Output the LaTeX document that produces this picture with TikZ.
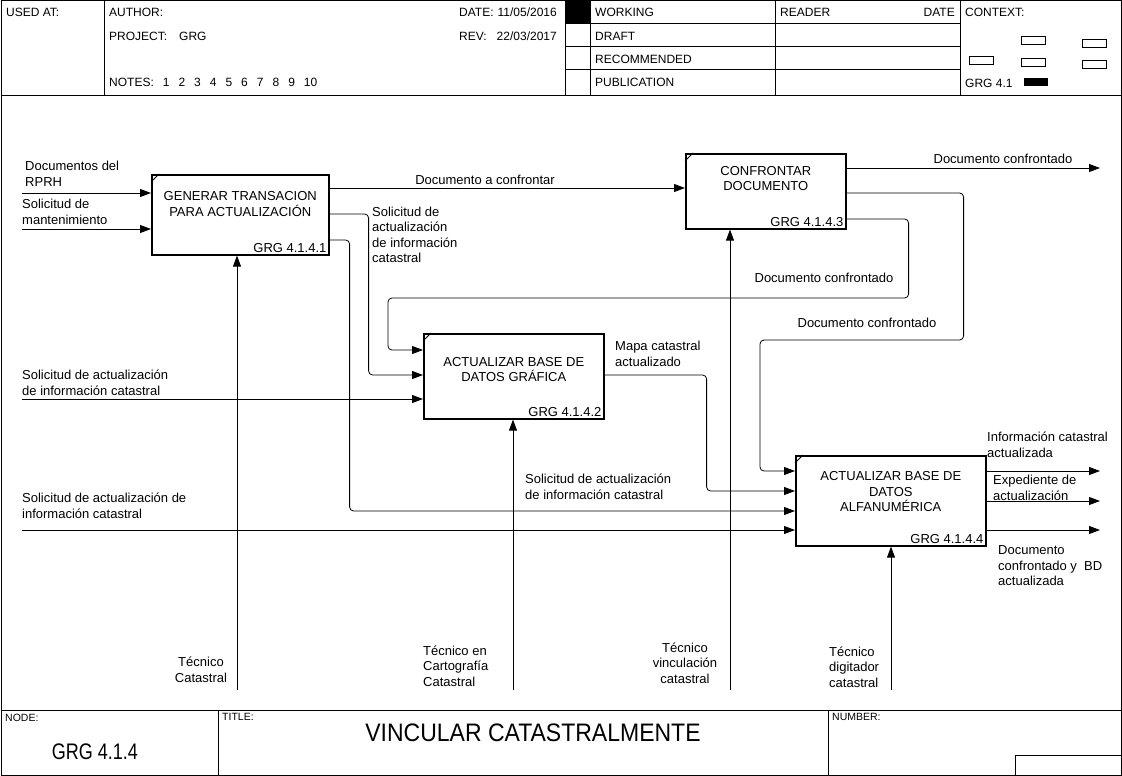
\documentclass[tikz,border=0pt]{standalone}
\usepackage{fontspec}
\setmainfont{Liberation Sans}
\usetikzlibrary{arrows.meta,positioning,calc}
\tikzset{
  frm/.style={line width=1pt},
  actbox/.style={rectangle,draw,line width=1.6pt,inner sep=0pt,anchor=north west},
  actname/.style={font=\fontsize{13}{15.5}\selectfont,align=center,inner sep=0pt},
  actnum/.style={font=\fontsize{13}{15.5}\selectfont,anchor=south east,inner sep=3pt},
  flowlbl/.style={font=\fontsize{13}{15.5}\selectfont,align=left,inner sep=0pt},
  hdrtxt/.style={font=\fontsize{12}{14}\selectfont,inner sep=0pt,anchor=west},
  ftrtxt/.style={font=\fontsize{10.5}{12}\selectfont,inner sep=0pt,anchor=west},
  ctxbox/.style={draw,line width=0.8pt},
  arr/.style={-{Triangle[length=11pt,width=8pt]},line width=0.8pt,rounded corners=4pt}
}

\begin{document}
\begin{tikzpicture}[x=1pt,y=-1pt]
  \useasboundingbox (0,0) rectangle (1122,776);

  % Frame
  \draw[frm] (1,1) rectangle (1121,775);

  % Header
  \draw[frm] (1,95) -- (1121,95);
  \foreach \x in {104,565,590,775,960}{
    \draw[frm] (\x,1) -- (\x,95);
  }
  \foreach \y in {24,47,70}{
    \draw[frm] (565,\y) -- (960,\y);
  }
  \fill (565,1) rectangle (590,24);
  \node[hdrtxt] (h-used) at (6,12) {USED AT:};
  \node[hdrtxt] (h-auth) at (109,12) {AUTHOR:};
  \node[hdrtxt] (h-proj) at (109,36) {PROJECT:\hspace{12pt}GRG};
  \node[hdrtxt] (h-notes) at (109,82) {NOTES:\hspace{9pt}1\hspace{9pt}2\hspace{9pt}3\hspace{9pt}4\hspace{9pt}5\hspace{9pt}6\hspace{9pt}7\hspace{9pt}8\hspace{9pt}9\hspace{9pt}10};
  \node[hdrtxt,anchor=east] (h-date) at (557,12) {DATE:\hspace{4pt}11/05/2016};
  \node[hdrtxt,anchor=east] (h-rev) at (557,36) {REV:\hspace{10pt}22/03/2017};
  \foreach \i/\y/\st in {1/12/WORKING,2/36/DRAFT,3/59/RECOMMENDED,4/82/PUBLICATION}{
    \node[hdrtxt] (st-\i) at (595,\y) {\st};
  }
  \node[hdrtxt] (h-read) at (780,12) {READER};
  \node[hdrtxt,anchor=east] (h-rdate) at (955,12) {DATE};
  \node[hdrtxt] (h-ctx) at (965,12) {CONTEXT:};

  % Context
  \foreach \x/\y in {1021/36,1082/39,969/56,1021/58,1082/60}{
    \draw[ctxbox] (\x,\y) rectangle ++(24,8);
  }
  \fill (1024,78) rectangle (1048,86);
  \node[hdrtxt] (h-grg) at (965,83) {GRG 4.1};

  % Footer
  \draw[frm] (1,710) -- (1121,710);
  \draw[frm] (218,710) -- (218,775);
  \draw[frm] (828,710) -- (828,775);
  \draw[frm] (1015,775) -- (1015,755) -- (1121,755);
  \node[ftrtxt] (f-node) at (5,718) {NODE:};
  \node[ftrtxt] (f-title) at (222,717) {TITLE:};
  \node[ftrtxt] (f-num) at (832,717) {NUMBER:};
  \node[font=\fontsize{18}{20}\selectfont,inner sep=0pt] (f-grg) at (95,752) {\scalebox{1}[1.25]{GRG 4.1.4}};
  \node[font=\fontsize{23}{25}\selectfont,inner sep=0pt] (f-name) at (533,733) {\scalebox{1}[1.1]{VINCULAR CATASTRALMENTE}};

  % Activities
  \node[actbox,minimum width=177pt,minimum height=80pt] (gen) at (151,174) {};
  \node[actbox,minimum width=160pt,minimum height=75pt] (conf) at (685,153) {};
  \node[actbox,minimum width=180pt,minimum height=85pt] (graf) at (423,333) {};
  \node[actbox,minimum width=190pt,minimum height=90pt] (alfa) at (795,455) {};
  \node[actname] (gen-t) at ([yshift=11pt]gen.center) {GENERAR TRANSACION\\PARA ACTUALIZACIÓN};
  \node[actname] (conf-t) at ([yshift=13pt]conf.center) {CONFRONTAR\\DOCUMENTO};
  \node[actname] (graf-t) at ([yshift=7pt]graf.center) {ACTUALIZAR BASE DE\\DATOS GRÁFICA};
  \node[actname] (alfa-t) at ([yshift=9pt]alfa.center) {ACTUALIZAR BASE DE\\DATOS\\ALFANUMÉRICA};
  \foreach \b/\n in {gen/1,graf/2,conf/3,alfa/4}{
    \node[actnum] (\b-n) at (\b.south east) {GRG 4.1.4.\n};
    \draw[line width=1pt] ([yshift=-8pt]\b.north west) -- ([xshift=8pt]\b.north west);
  }

  % Ports
  \coordinate (g-o1) at ([yshift=-14pt]gen.north east);
  \coordinate (g-o2) at ([yshift=-40pt]gen.north east);
  \coordinate (g-o3) at ([yshift=-66pt]gen.north east);
  \coordinate (c-in) at ([yshift=-35pt]conf.north west);
  \coordinate (c-o1) at ([yshift=-15pt]conf.north east);
  \coordinate (c-o2) at ([yshift=-40pt]conf.north east);
  \coordinate (c-o3) at ([yshift=-66pt]conf.north east);
  \coordinate (r-in1) at ([yshift=-17pt]graf.north west);
  \coordinate (r-in2) at ([yshift=-42pt]graf.north west);
  \coordinate (r-in3) at ([yshift=-66pt]graf.north west);
  \coordinate (r-o1) at ([yshift=-42pt]graf.north east);
  \coordinate (a-in1) at ([yshift=-16pt]alfa.north west);
  \coordinate (a-in2) at ([yshift=-36pt]alfa.north west);
  \coordinate (a-in3) at ([yshift=-56pt]alfa.north west);
  \coordinate (a-in4) at ([yshift=-75pt]alfa.north west);
  \coordinate (a-o1) at ([yshift=-16pt]alfa.north east);
  \coordinate (a-o2) at ([yshift=-46pt]alfa.north east);
  \coordinate (a-o3) at ([yshift=-75pt]alfa.north east);

  % Free ends
  \coordinate (rprh) at (22,193);
  \coordinate (mant) at (22,229);
  \coordinate (solg) at (22,399);
  \coordinate (sola) at (22,530);
  \coordinate (e-dc) at (c-o1 -| 1100,0);
  \coordinate (e-inf) at (a-o1 -| 1100,0);
  \coordinate (e-exp) at (a-o2 -| 1100,0);
  \coordinate (e-bd) at (a-o3 -| 1100,0);
  \coordinate (m-gen) at (237,690);
  \coordinate (m-graf) at (513,690);
  \coordinate (m-conf) at (730,690);
  \coordinate (m-alfa) at (891,690);

  % Connectors
  \draw[arr] (rprh) -- (rprh -| gen.west);
  \draw[arr] (mant) -- (mant -| gen.west);
  \draw[arr] (g-o1) -- (c-in);
  \draw[arr] (g-o2) -- ++(39,0) |- (r-in2);
  \draw[arr] (g-o3) -- ++(20,0) |- (a-in3);
  \draw[arr] (c-o1) -- (e-dc);
  \draw[arr] (c-o2) -- ++(117,0) -- ++(0,147) -| ([xshift=-35pt]a-in1) -- (a-in1);
  \draw[arr] (c-o3) -- ++(62,0) -- ++(0,79) -| ([xshift=-35pt]r-in1) -- (r-in1);
  \draw[arr] (r-o1) -- ++(102,0) |- (a-in2);
  \draw[arr] (solg) -- (r-in3);
  \draw[arr] (sola) -- (a-in4);
  \draw[arr] (a-o1) -- (e-inf);
  \draw[arr] (a-o2) -- (e-exp);
  \draw[arr] (a-o3) -- (e-bd);
  \foreach \m/\b in {m-gen/gen,m-graf/graf,m-conf/conf,m-alfa/alfa}{
    \draw[arr] (\m) -- (\m |- \b.south);
  }

  % Labels
  \node[flowlbl,anchor=west] (l-rprh) at (25,174) {Documentos del\\RPRH};
  \node[flowlbl,anchor=west] (l-mant) at (22,212) {Solicitud de\\mantenimiento};
  \node[flowlbl] (l-conf) at (485,180) {Documento a confrontar};
  \node[flowlbl,anchor=west] (l-solact) at (372,235) {Solicitud de\\actualización\\de información\\catastral};
  \node[flowlbl] (l-dc3) at (1003,159) {Documento confrontado};
  \node[flowlbl] (l-dc1) at (824,278) {Documento confrontado};
  \node[flowlbl] (l-dc2) at (867,323) {Documento confrontado};
  \node[flowlbl,anchor=west] (l-mapa) at (615,354) {Mapa catastral\\actualizado};
  \node[flowlbl,anchor=west] (l-solg) at (22,383) {Solicitud de actualización\\de información catastral};
  \node[flowlbl,anchor=west] (l-solb) at (525,487) {Solicitud de actualización\\de información catastral};
  \node[flowlbl,anchor=west] (l-sola) at (22,506) {Solicitud de actualización de\\información catastral};
  \node[flowlbl,anchor=west] (l-inf) at (987,445) {Información catastral\\actualizada};
  \node[flowlbl,anchor=west] (l-exp) at (993,488) {Expediente de\\actualización};
  \node[flowlbl,anchor=west] (l-bd) at (998,566) {Documento\\confrontado y\ \ BD\\actualizada};
  \node[flowlbl,align=center] (l-mgen) at (201,670) {Técnico\\Catastral};
  \node[flowlbl,anchor=west] (l-mgraf) at (423,666) {Técnico en\\Cartografía\\Catastral};
  \node[flowlbl,align=center] (l-mconf) at (685,663) {Técnico\\vinculación\\catastral};
  \node[flowlbl,anchor=west] (l-malfa) at (829,667) {Técnico\\digitador\\catastral};

\end{tikzpicture}
\end{document}
